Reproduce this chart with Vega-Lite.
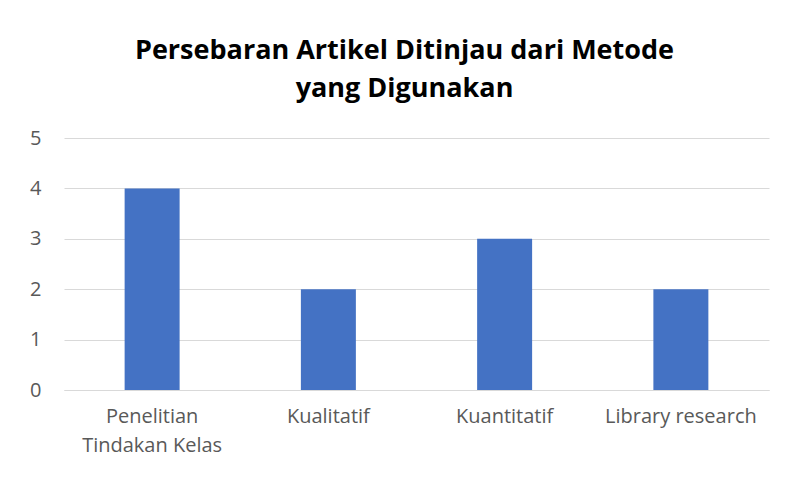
{
  "$schema": "https://vega.github.io/schema/vega-lite/v6.json",
  "autosize": "none",
  "width": 705,
  "height": 252,
  "padding": {"left": 64, "top": 138, "right": 16, "bottom": 87},
  "background": "white",
  "title": {
    "text": ["Persebaran Artikel Ditinjau dari Metode", "yang Digunakan"],
    "font": "Open Sans",
    "fontSize": 27,
    "fontWeight": "bold",
    "color": "#000000",
    "anchor": "middle",
    "dx": -12,
    "lineHeight": 38,
    "offset": 25
  },
  "data": {
    "values": [
      {"metode": "Penelitian Tindakan Kelas", "jumlah": 4},
      {"metode": "Kualitatif", "jumlah": 2},
      {"metode": "Kuantitatif", "jumlah": 3},
      {"metode": "Library research", "jumlah": 2}
    ]
  },
  "mark": {"type": "bar", "color": "#4472C4"},
  "encoding": {
    "x": {
      "field": "metode",
      "type": "nominal",
      "sort": null,
      "title": null,
      "scale": {"paddingInner": 0.688, "paddingOuter": 0.344},
      "axis": {
        "labelExpr": "datum.value == 'Penelitian Tindakan Kelas' ? ['Penelitian', 'Tindakan Kelas'] : datum.value",
        "labelAngle": 0,
        "labelFont": "Open Sans",
        "labelFontSize": 20,
        "labelColor": "#595959",
        "labelLineHeight": 29,
        "labelPadding": 16,
        "ticks": false,
        "domainColor": "#D9D9D9",
        "domainWidth": 1,
        "grid": false
      }
    },
    "y": {
      "field": "jumlah",
      "type": "quantitative",
      "title": null,
      "scale": {"domain": [0, 5]},
      "axis": {
        "values": [0, 1, 2, 3, 4, 5],
        "labelFont": "Open Sans",
        "labelFontSize": 20,
        "labelColor": "#595959",
        "labelPadding": 23,
        "ticks": false,
        "domain": false,
        "gridColor": "#D9D9D9",
        "gridWidth": 1
      }
    }
  },
  "config": {"view": {"stroke": null}}
}
